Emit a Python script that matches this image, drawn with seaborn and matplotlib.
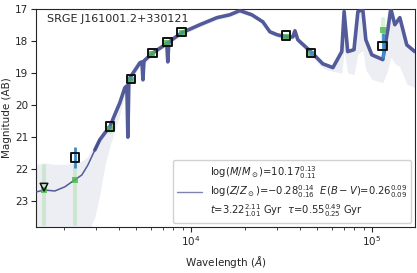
import matplotlib
matplotlib.use("Agg")
import matplotlib.pyplot as plt
import seaborn as sns
import numpy as np

# best-fit model spectrum
model_wave = [1393, 1560, 1773, 2014, 2287, 2500, 2700, 2951, 3143, 3350,
              3567, 3800, 4052, 4318, 4432, 4490, 4545, 4603, 5228, 5370,
              5440, 5510, 6166, 7363, 7460, 7560, 7850, 8918, 11220, 13930,
              16420, 18650, 21720, 24990, 27330, 29850, 33490, 36610, 37600, 39000,
              46030, 53580, 60930, 68230, 70300, 73560, 79690, 83750, 89170, 92660,
              100000, 115000, 122500, 127300, 134000, 142800, 156000, 172900]
model_mag = [22.71, 22.65, 22.68, 22.55, 22.33, 22.18, 21.87, 21.40, 21.08, 20.87,
             20.68, 20.30, 19.93, 19.46, 19.40, 21.00, 19.34, 19.15, 18.68, 18.65,
             19.21, 18.62, 18.37, 18.08, 18.65, 18.05, 17.96, 17.74, 17.49, 17.27,
             17.18, 17.05, 17.18, 17.40, 17.71, 17.80, 17.87, 17.87, 17.68, 17.96,
             18.33, 18.71, 18.83, 18.33, 17.08, 18.33, 18.27, 17.08, 17.02, 17.96,
             18.43, 18.58, 17.65, 16.99, 17.49, 17.27, 18.12, 18.33]
# spread of the posterior model samples
sample_bright = [21.85, 21.80, 21.85, 21.85, 21.80, 21.75, 21.60, 21.20, 20.95, 20.75,
                 20.55, 20.20, 19.85, 19.38, 19.33, 20.80, 19.28, 19.09, 18.62, 18.59,
                 19.10, 18.56, 18.31, 18.02, 18.55, 17.99, 17.90, 17.68, 17.43, 17.21,
                 17.12, 16.99, 17.12, 17.34, 17.65, 17.74, 17.81, 17.81, 17.62, 17.90,
                 18.27, 18.65, 18.77, 18.27, 17.02, 18.27, 18.21, 17.02, 16.96, 17.90,
                 18.37, 18.52, 17.59, 16.93, 17.43, 17.21, 18.06, 18.27]
sample_faint = [24.0, 24.0, 24.0, 24.0, 24.0, 24.0, 24.0, 23.5, 22.8, 21.9,
                21.3, 20.8, 20.3, 19.7, 19.6, 21.3, 19.5, 19.3, 18.78, 18.75,
                19.3, 18.72, 18.45, 18.15, 18.72, 18.12, 18.03, 17.81, 17.56, 17.34,
                17.25, 17.12, 17.25, 17.47, 17.78, 17.87, 17.95, 17.95, 17.78, 18.06,
                18.45, 18.85, 18.95, 19.00, 18.30, 19.00, 19.05, 18.40, 18.30, 18.90,
                19.20, 19.30, 18.90, 18.50, 18.70, 18.80, 19.35, 19.45]

# observed photometry
obs_wave = [2287, 3565, 4665, 6140, 7430, 8886, 33500, 46000, 114600]
obs_mag = [21.64, 20.67, 19.19, 18.38, 18.02, 17.72, 17.83, 18.37, 18.15]
obs_err = [0.32, 0.05, 0.03, 0.02, 0.02, 0.03, 0.03, 0.05, 0.39]
lim_wave = [1545]
lim_mag = [22.56]

# model photometry (median and spread)
mod_wave = [1545, 2287, 3565, 4665, 6140, 7430, 8886, 33500, 46000, 114600]
mod_mag = [22.65, 22.35, 20.75, 19.23, 18.41, 18.06, 17.76, 17.86, 18.39, 17.65]
mod_lo = [21.9, 21.9, 20.70, 19.20, 18.38, 18.03, 17.73, 17.83, 18.35, 17.30]
mod_hi = [23.7, 23.7, 20.85, 19.27, 18.45, 18.10, 17.80, 17.90, 18.45, 18.05]

sns.set_style("ticks")
plt.rcParams['font.family'] = ['DejaVu Sans']

fig = plt.figure(figsize=(4.17, 2.73), dpi=100)
ax = fig.add_axes([0.086, 0.169, 0.909, 0.798])

line_col = '#414a8f'
ax.fill_between(model_wave, sample_bright, sample_faint, color=line_col,
                alpha=0.09, lw=0)
# UV part of the best fit is thin, the rest is a thick band of samples
ax.plot(model_wave[:9], model_mag[:9], color=line_col, lw=1.1, alpha=0.9, zorder=3)
ax.plot(model_wave[7:], model_mag[7:], color=line_col, lw=2.6, alpha=0.9, zorder=3)

for w, lo, hi in zip(mod_wave, mod_lo, mod_hi):
    ax.plot([w, w], [lo, hi], color='#6fcf6a', lw=3, alpha=0.25, zorder=4)
ax.scatter(mod_wave, mod_mag, marker='s', s=14, color='#4cb84a', alpha=0.8,
           lw=0, zorder=4)

ax.errorbar(obs_wave, obs_mag, yerr=obs_err, fmt='none', ecolor='#3b8fc9',
            elinewidth=2, zorder=5)
ax.scatter(obs_wave, obs_mag, marker='s', s=36, facecolors='none',
           edgecolors='#111111', linewidths=1.4, zorder=6)
ax.scatter(lim_wave, lim_mag, marker='v', s=30, facecolors='none',
           edgecolors='#111111', linewidths=1.1, zorder=6)

ax.set_xscale('log')
ax.set_xlim(1393, 173000)
ax.set_ylim(23.8, 17)
ax.set_yticks([17, 18, 19, 20, 21, 22, 23])
ax.tick_params(labelsize=7.5, pad=2)
ax.set_xlabel(r'Wavelength ($\AA$)', fontsize=7.5)
ax.set_ylabel('Magnitude (AB)', fontsize=7.5, labelpad=2)

ax.text(0.03, 0.975, 'SRGE J161001.2+330121', transform=ax.transAxes,
        fontsize=8, va='top', ha='left')

label = (r'$\log(M/M_\odot)$=10.17$^{0.13}_{0.11}$' + '\n' +
         r'$\log(Z/Z_\odot)$=$-$0.28$^{0.14}_{0.16}$  $E(B-V)$=0.26$^{0.09}_{0.09}$' + '\n' +
         r'$t$=3.22$^{2.11}_{1.01}$ Gyr  $\tau$=0.55$^{0.49}_{0.25}$ Gyr')
h, = ax.plot([], [], color='#7f84b3', lw=1)
ax.legend([h], [label], loc='lower right', fontsize=7.2, borderaxespad=0.4,
          handlelength=2.5, framealpha=0.9)

fig.savefig('out.png', dpi=100)
